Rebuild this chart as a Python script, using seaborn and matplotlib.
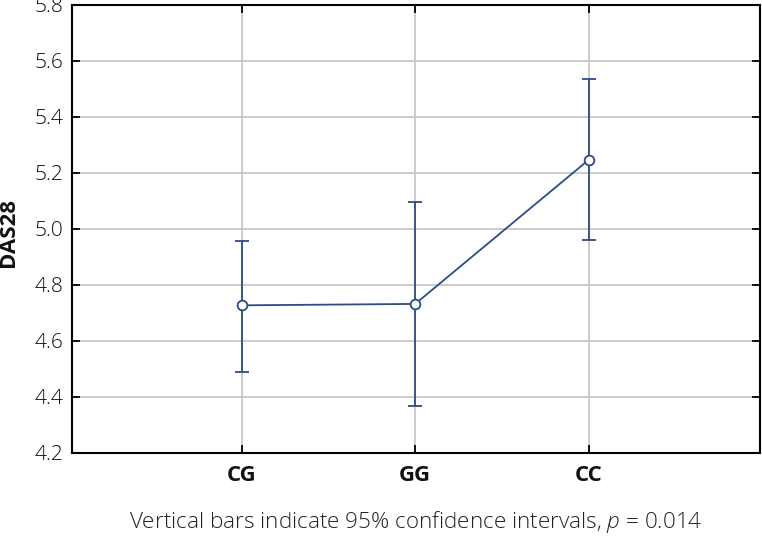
import matplotlib
matplotlib.use("Agg")
import matplotlib.pyplot as plt
import seaborn as sns
import pandas as pd

# values
genotypes = ["CG", "GG", "CC"]
das28_mean = [4.727, 4.732, 5.246]
ci_low = [4.488, 4.366, 4.959]
ci_high = [4.958, 5.096, 5.536]

line_color = "#2b4c8c"

sns.set_theme(style="white")
plt.rcParams["font.family"] = ["Open Sans", "DejaVu Sans"]
plt.rcParams["mathtext.fontset"] = "custom"
plt.rcParams["mathtext.it"] = "Open Sans:italic:light"
plt.rcParams["mathtext.rm"] = "Open Sans:light"

df = pd.DataFrame({"genotype": genotypes, "DAS28": das28_mean})
xpos = list(range(len(genotypes)))

fig = plt.figure(figsize=(7.62, 5.36), dpi=100)
ax = fig.add_axes([0.0945, 0.155, 0.903, 0.836])

# grid lines
for y in [4.4, 4.6, 4.8, 5.0, 5.2, 5.4, 5.6]:
    ax.axhline(y, color="#c8c8c8", lw=1.3, zorder=0)
for x in xpos:
    ax.axvline(x, color="#c8c8c8", lw=1.3, zorder=0)

# confidence intervals
yerr = [[m - lo for m, lo in zip(das28_mean, ci_low)],
        [hi - m for m, hi in zip(das28_mean, ci_high)]]
ax.errorbar(xpos, das28_mean, yerr=yerr, fmt="none", ecolor=line_color,
            elinewidth=1.3, capsize=5, capthick=1.3, zorder=2)

sns.lineplot(x=xpos, y=df["DAS28"], ax=ax, color=line_color, lw=1.3,
             marker="o", markersize=7, markerfacecolor="white",
             markeredgecolor=line_color, markeredgewidth=1.3, zorder=3)

ax.set_xlim(-0.98, 2.99)
ax.set_ylim(4.2, 5.8)
ax.set_yticks([4.2, 4.4, 4.6, 4.8, 5.0, 5.2, 5.4, 5.6, 5.8])
ax.set_yticklabels(["4.2", "4.4", "4.6", "4.8", "5.0", "5.2", "5.4", "5.6", "5.8"],
                   fontsize=15, fontweight="light", color="#111111")
ax.set_xticks(xpos)
ax.set_xticklabels(genotypes, fontsize=16, fontweight="bold", color="#111111")
ax.tick_params(axis="both", direction="in", length=6, width=1.3, color="black",
               top=True, right=True, bottom=True, left=True,
               labeltop=False, labelright=False)
ax.tick_params(axis="x", pad=9)
ax.tick_params(axis="y", pad=6)

for sp in ax.spines.values():
    sp.set_color("black")
    sp.set_linewidth(1.5)

ax.set_xlabel("")
ax.set_ylabel("")
fig.text(9 / 762, 0.567, "DAS28", rotation=90, ha="center", va="center",
         fontsize=16, fontweight="bold", color="#111111")

fig.text(0.545, 0.026, "Vertical bars indicate 95% confidence intervals, $p$ = 0.014",
         ha="center", va="center", fontsize=16.2, fontweight="light", color="#222222")

fig.savefig("out.png", dpi=100)
